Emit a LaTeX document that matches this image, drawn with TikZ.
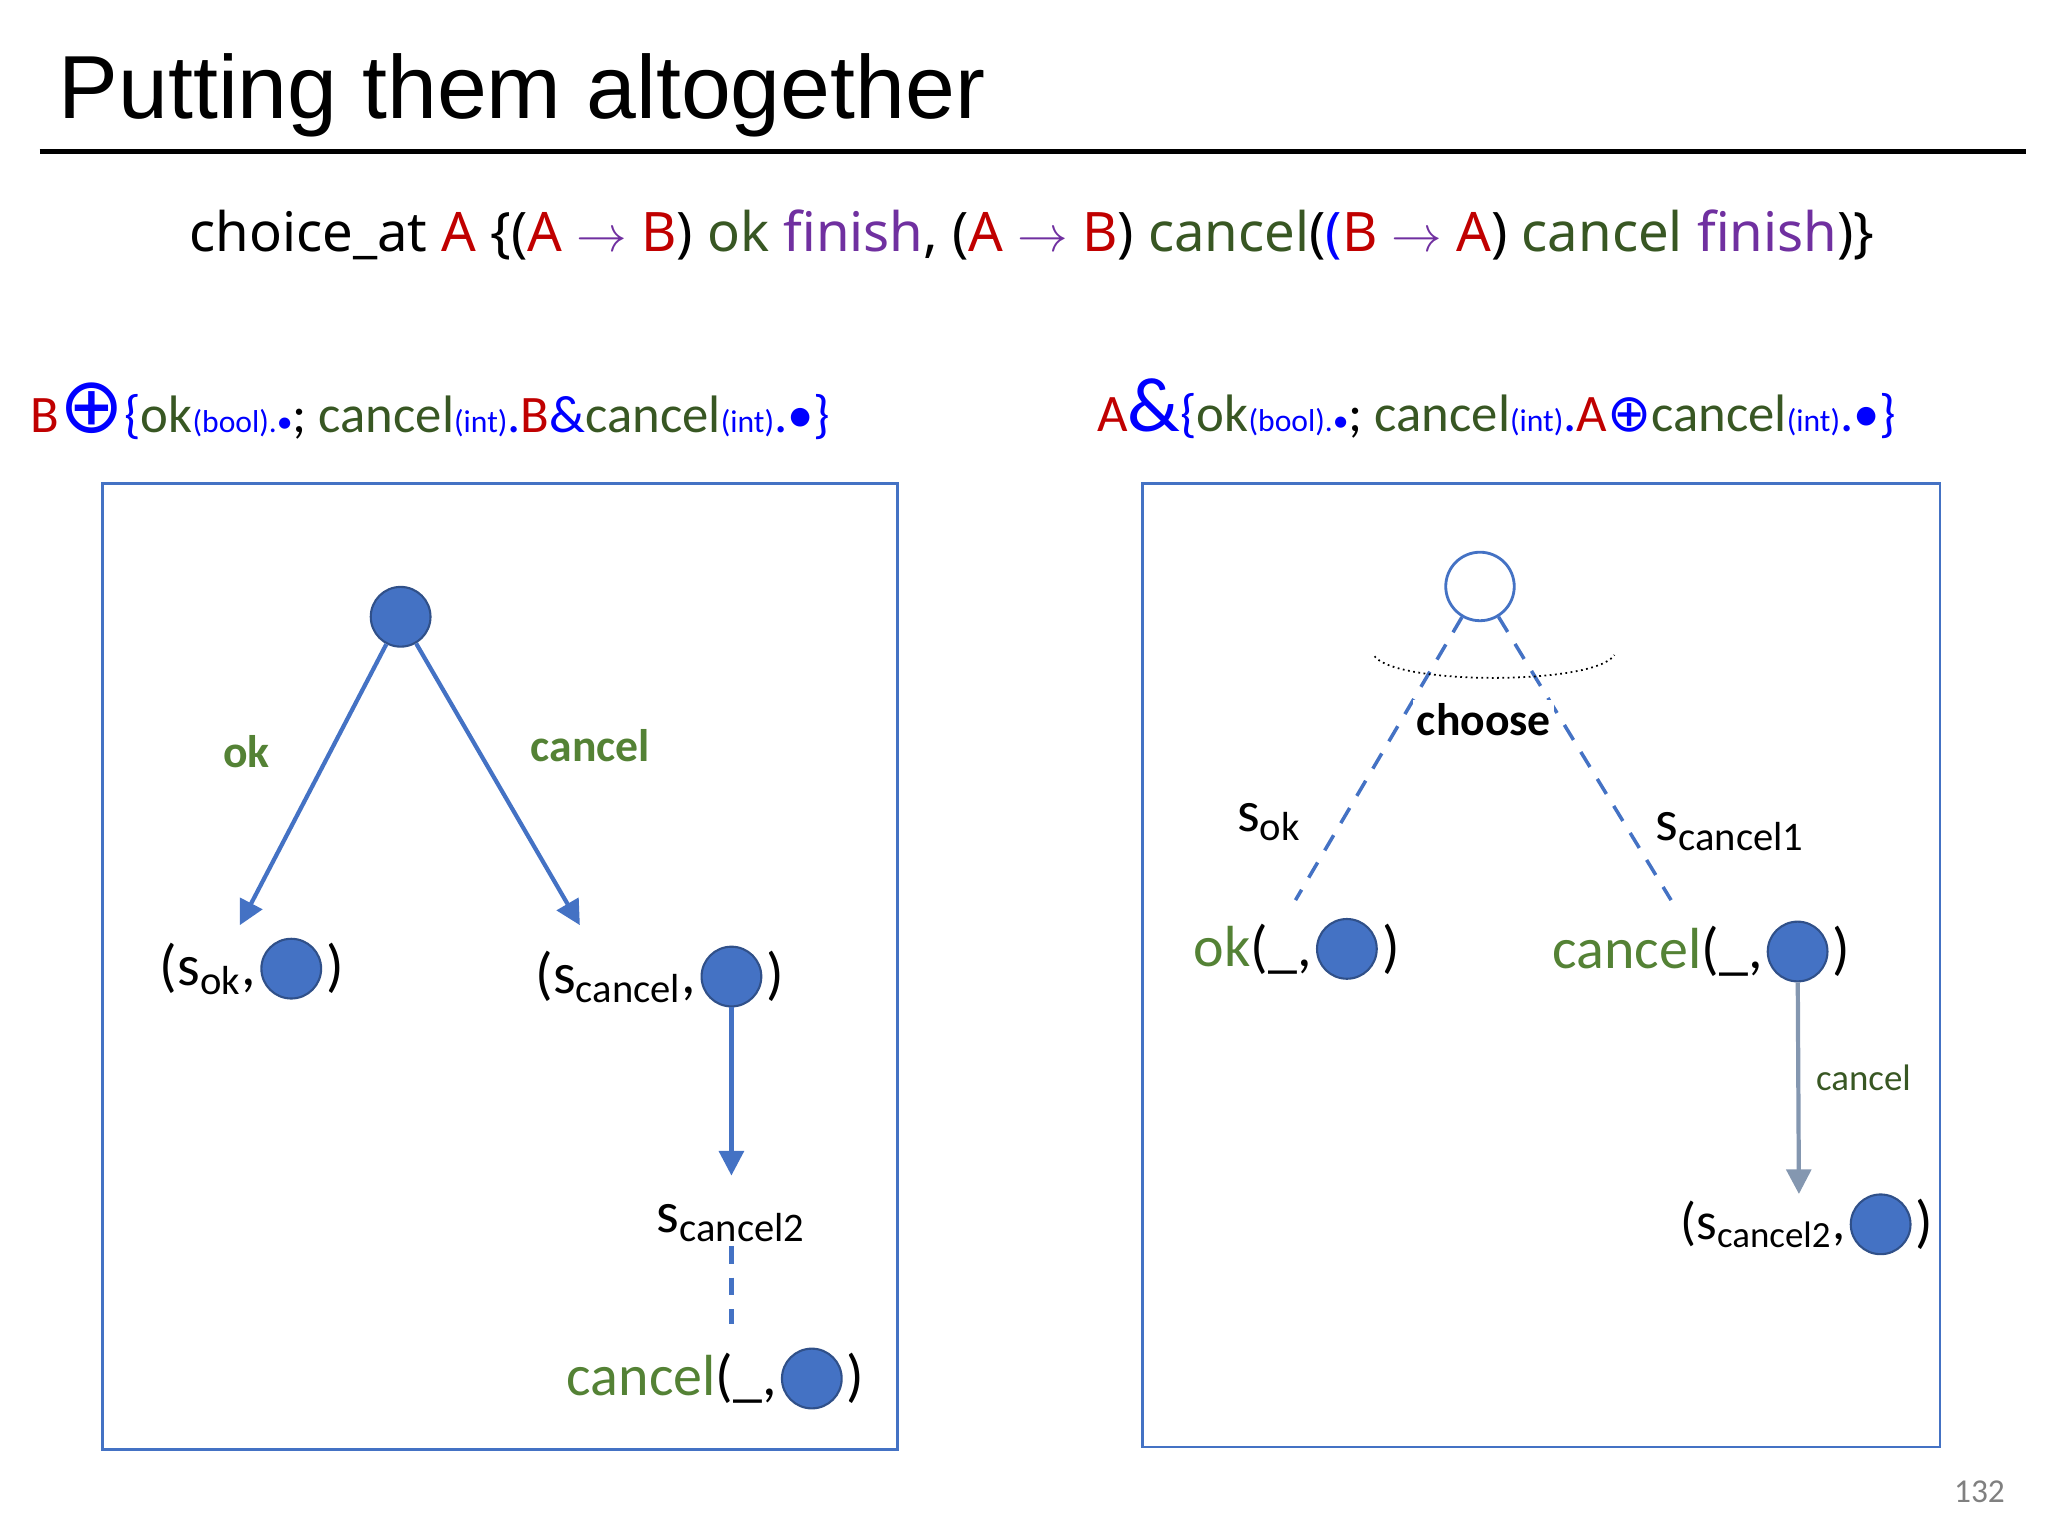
\documentclass[tikz,border=0pt]{standalone}
\usepackage{fontspec}
\setmainfont{Carlito}
\newfontfamily\arialf{Liberation Sans}
\newfontfamily\djv{DejaVu Sans}
\newfontfamily\notof{Noto Sans}
\definecolor{rd}{HTML}{C00000}
\definecolor{gr}{HTML}{548235}
\definecolor{dg}{HTML}{385723}
\definecolor{pu}{HTML}{7030A0}
\definecolor{bl}{HTML}{0000FF}
\definecolor{nb}{HTML}{4472C4}
\definecolor{ga}{HTML}{8497B0}
\tikzset{
 dot/.style={circle,fill=nb,draw=nb!70!black,line width=0.6pt,minimum size=17pt,inner sep=0pt},
 odot/.style={circle,fill=white,draw=nb,line width=0.8pt,minimum size=19.5pt,inner sep=0pt},
 big/.style={font=\fontsize{16.5}{18}\selectfont,inner sep=1pt},
 frame/.style={draw=nb,line width=0.8pt},
 edge/.style={draw=nb,line width=1.2pt,-{Triangle[length=7pt,width=7pt]}},
 dedge/.style={draw=nb,line width=1.2pt,dashed,dash pattern=on 5pt off 4pt},
 lbl/.style={font=\fontsize{13}{15}\selectfont\bfseries,text=gr}
}
\usetikzlibrary{arrows.meta}
\begin{document}
\begin{tikzpicture}[x=0.01318cm,y=-0.01318cm]
\useasboundingbox (0,0) rectangle (1554,1166);
\node[anchor=west,font=\arialf\fontsize{25.5}{27}\selectfont,inner sep=0] (title) at (44,72) {Putting them altogether};
\coordinate (t1) at (30,115); \coordinate (t2) at (1537,115);
\draw[line width=1.2pt] (t1) -- (t2);
\node[font=\notof\fontsize{15.5}{17}\selectfont] (formula) at (783,178) {choice\_at \textcolor{rd}{A} \{(\textcolor{rd}{A} \textcolor{pu}{$\rightarrow$} \textcolor{rd}{B}) \textcolor{dg}{ok} \textcolor{pu}{finish}, (\textcolor{rd}{A} \textcolor{pu}{$\rightarrow$} \textcolor{rd}{B}) \textcolor{dg}{cancel}(\textcolor{bl}{(}\textcolor{rd}{B} \textcolor{pu}{$\rightarrow$} \textcolor{rd}{A}) \textcolor{dg}{cancel} \textcolor{pu}{finish})\}};
\node[anchor=west,font=\fontsize{15}{17}\selectfont] (tl) at (14,312) {\textcolor{rd}{B}\textcolor{bl}{{\djv\fontsize{22}{22}\selectfont ⊕}\{}\textcolor{dg}{ok}\textcolor{bl}{\small(bool).•}; \textcolor{dg}{cancel}\textcolor{bl}{\small(int)}\textcolor{bl}{.}\textcolor{rd}{B}\textcolor{bl}{\&}\textcolor{dg}{cancel}\textcolor{bl}{\small(int)}\textcolor{bl}{.•\}}};
\node[anchor=west,font=\fontsize{15}{17}\selectfont] (tr) at (823,310) {\textcolor{rd}{A}\textcolor{bl}{{\fontsize{22}{22}\selectfont\&}\{}\textcolor{dg}{ok}\textcolor{bl}{\small(bool).•}; \textcolor{dg}{cancel}\textcolor{bl}{\small(int)}\textcolor{bl}{.}\textcolor{rd}{A}\textcolor{bl}{{\djv ⊕}}\textcolor{dg}{cancel}\textcolor{bl}{\small(int)}\textcolor{bl}{.•\}}};
% left
\draw[frame] (78,367) rectangle (681,1100);
\node[dot] (r) at (304,468) {};
\node[dot] (c1) at (221,735) {};
\node[big,anchor=east] (p1) at (c1.west) {(s\textsubscript{ok},};
\node[big,anchor=west] (q1) at (c1.east) {)};
\node[dot] (c2) at (555,741) {};
\node[big,anchor=east] (p2) at (c2.west) {(s\textsubscript{cancel},};
\node[big,anchor=west] (q2) at (c2.east) {)};
\coordinate (a1) at (182,702); \coordinate (a2) at (440,702);
\draw[edge] (r) -- (a1);
\draw[edge] (r) -- (a2);
\node[lbl] (lok) at (187,570) {ok};
\node[lbl] (lca) at (448,566) {cancel};
\node[big] (sc2) at (555,928) {s\textsubscript{cancel2}};
\coordinate (a3) at (555,892);
\draw[edge] (c2) -- (a3);
\node[dot] (c3) at (616,1046) {};
\node[big,anchor=east,text=gr] (p3) at (c3.west) {cancel\textcolor{black}{(\_,}};
\node[big,anchor=west] (q3) at (c3.east) {)};
\coordinate (d3) at (555,1005);
\draw[dedge] (sc2) -- (d3);
% right
\draw[frame] (867,367) rectangle (1472,1098);
\node[odot] (ro) at (1123,445) {};
\coordinate (e1) at (983,683); \coordinate (e2) at (1268,683);
\draw[dedge,line width=1pt] (ro) -- (e1);
\draw[dedge,line width=1pt] (ro) -- (e2);
\draw[densely dotted,line width=0.5pt] (1043,498) .. controls (1060,520) and (1210,520) .. (1225,497);
\node[font=\fontsize{13}{15}\selectfont\bfseries,fill=white,inner sep=1pt] (ch) at (1126,546) {choose};
\node[big] (sok) at (963,624) {s\textsubscript{ok}};
\node[big] (sc1) at (1313,631) {s\textsubscript{cancel1}};
\node[dot] (c4) at (1022,720) {};
\node[big,anchor=east,text=gr] (p4) at (c4.west) {ok\textcolor{black}{(\_,}};
\node[big,anchor=west] (q4) at (c4.east) {)};
\node[dot] (c5) at (1364,722) {};
\node[big,anchor=east,text=gr] (p5) at (c5.west) {cancel\textcolor{black}{(\_,}};
\node[big,anchor=west] (q5) at (c5.east) {)};
\coordinate (a5) at (1365,906);
\draw[draw=ga,line width=1.2pt,-{Triangle[length=7pt,width=7pt]}] (c5) -- (a5);
\node[font=\fontsize{10.5}{12}\selectfont,text=dg] (lc) at (1414,818) {cancel};
\node[dot] (c6) at (1427,929) {};
\node[font=\fontsize{15}{17}\selectfont,inner sep=1pt,anchor=east] (p6) at (c6.west) {(s\textsubscript{cancel2},};
\node[big,anchor=west] (q6) at (c6.east) {)};
\node[font=\fontsize{9.5}{11}\selectfont,text=gray] (pg) at (1502,1132) {132};
\end{tikzpicture}
\end{document}
